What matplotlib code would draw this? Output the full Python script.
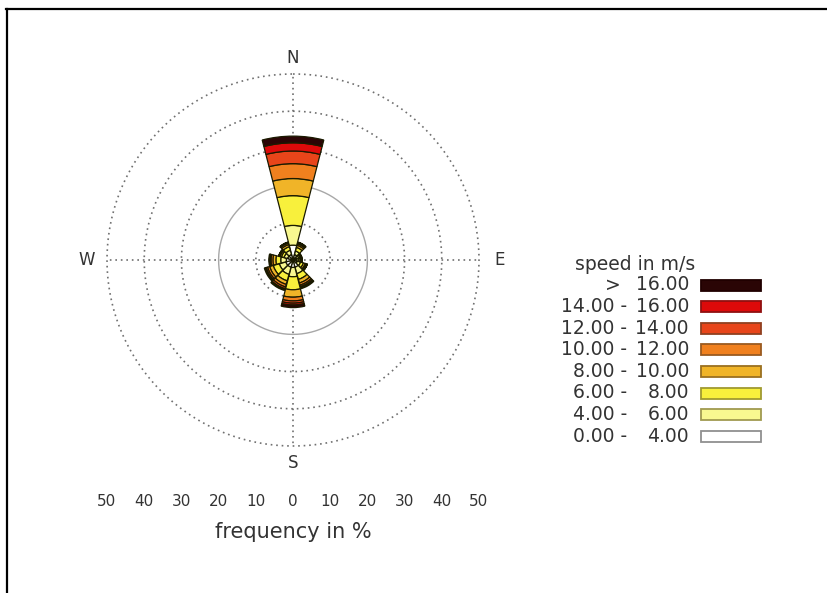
import numpy as np
import matplotlib
matplotlib.use("Agg")
import matplotlib.pyplot as plt
from matplotlib.patches import Rectangle
from matplotlib.lines import Line2D

plt.rcParams['font.family'] = ['DejaVu Sans']

# wind directions (degrees, clockwise from north)
directions = [0, 30, 60, 90, 120, 150, 180, 210, 240, 270, 300, 330]

# frequency (%) per speed class and direction
f_0_4   = [4.0, 1.5, 1.0, 1.0, 1.2, 2.0, 2.0, 2.0, 2.0, 1.8, 1.5, 1.5]
f_4_6   = [5.3, 1.0, 0.6, 0.6, 0.9, 1.8, 2.5, 2.0, 1.8, 1.5, 1.0, 1.2]
f_6_8   = [8.0, 1.0, 0.4, 0.4, 0.8, 1.6, 3.5, 1.8, 1.7, 1.3, 0.7, 1.0]
f_8_10  = [4.6, 0.6, 0.2, 0.2, 0.5, 1.0, 2.0, 1.0, 1.0, 0.8, 0.4, 0.6]
f_10_12 = [4.0, 0.4, 0.1, 0.1, 0.3, 0.6, 1.0, 0.7, 0.6, 0.5, 0.2, 0.4]
f_12_14 = [3.4, 0.3, 0.1, 0.1, 0.2, 0.4, 0.6, 0.5, 0.4, 0.3, 0.1, 0.2]
f_14_16 = [2.2, 0.1, 0.05, 0.05, 0.05, 0.3, 0.5, 0.2, 0.2, 0.1, 0.05, 0.05]
f_16    = [1.8, 0.1, 0.05, 0.05, 0.05, 0.3, 0.7, 0.3, 0.3, 0.2, 0.05, 0.05]

classes = [f_0_4, f_4_6, f_6_8, f_8_10, f_10_12, f_12_14, f_14_16, f_16]
class_labels = [("0.00 -", "4.00"), ("4.00 -", "6.00"), ("6.00 -", "8.00"),
                ("8.00 -", "10.00"), ("10.00 -", "12.00"), ("12.00 -", "14.00"),
                ("14.00 -", "16.00"), (">", "16.00")]
class_colors = ['#ffffff', '#f8f890', '#f8f03c', '#f0b428', '#f0801e',
                '#e8451a', '#dd0a0a', '#2a0505']
class_edges = ['#909090', '#a09a50', '#a09a30', '#9a7020', '#9a5a20',
               '#904020', '#901010', '#200000']

W, H = 828, 593
fig = plt.figure(figsize=(W / 100, H / 100), dpi=100)


def fx(x):
    return x / W


def fy(y):
    return 1 - y / H


# frame lines (top and left)
fig.add_artist(Line2D([fx(6), fx(828)], [fy(9), fy(9)], color='black', lw=1.6))
fig.add_artist(Line2D([fx(7), fx(7)], [fy(9), fy(593)], color='black', lw=1.6))

# polar rose
cx, cy, R = 293, 260, 186
ax = fig.add_axes([fx(cx - R), fy(cy + R), 2 * R / W, 2 * R / H], projection='polar')
ax.set_theta_zero_location('N')
ax.set_theta_direction(-1)
ax.set_ylim(0, 50)
ax.axis('off')

tt = np.linspace(0, 2 * np.pi, 400)
for r in [10, 30, 40, 50]:
    ax.plot(tt, np.full_like(tt, r), color='#707070', lw=1.2, ls=(0, (1, 2.3)), clip_on=False)
ax.plot(tt, np.full_like(tt, 20), color='#a8a8a8', lw=1.0, clip_on=False)
for a in [0, 90, 180, 270]:
    ax.plot([np.radians(a), np.radians(a)], [0, 50], color='#707070', lw=1.2,
            ls=(0, (1, 2.3)), clip_on=False)

theta = np.radians(directions)
width = np.radians(30) * 0.96
bottom = np.zeros(len(directions))
for vals, col, ec in zip(classes, class_colors, class_edges):
    ax.bar(theta, vals, width=width, bottom=bottom, color=col,
           edgecolor='#1a1a00', linewidth=0.9, zorder=3)
    bottom += np.array(vals)

for lab, a, r in [("N", 0, 54.3), ("E", 90, 55.6), ("S", 180, 54.5), ("W", 270, 55.4)]:
    ax.text(np.radians(a), r, lab, ha='center', va='center', fontsize=12,
            color='#333333', clip_on=False)

# frequency scale below the rose
ax2 = fig.add_axes([fx(cx - R), fy(490), 2 * R / W, 0.0001])
ax2.set_xlim(-50, 50)
ticks = [-50, -40, -30, -20, -10, 0, 10, 20, 30, 40, 50]
ax2.set_xticks(ticks)
ax2.set_xticklabels([str(abs(t)) for t in ticks], fontsize=11, color='#333333')
ax2.tick_params(axis='x', length=0, pad=3)
ax2.set_yticks([])
for s in ax2.spines.values():
    s.set_visible(False)
ax2.set_xlabel("frequency in %", fontsize=15, color='#333333', labelpad=9)

# legend
fig.text(fx(695), fy(265), "speed in m/s", ha='right', va='center',
         fontsize=13.5, color='#333333')
for i, (lab, col, ec) in enumerate(zip(class_labels[::-1], class_colors[::-1], class_edges[::-1])):
    yc = 285 + 21.6 * i
    lo, hi = lab
    fig.text(fx(621 if lo == ">" else 627), fy(yc), lo, ha='right', va='center',
             fontsize=13.5, color='#333333')
    fig.text(fx(689), fy(yc), hi, ha='right', va='center', fontsize=13.5, color='#333333')
    fig.add_artist(Rectangle((fx(701), fy(yc + 5.5)), 60 / W, 11 / H,
                             facecolor=col, edgecolor=ec, lw=1.3,
                             transform=fig.transFigure))

fig.savefig("out.png", dpi=100)
